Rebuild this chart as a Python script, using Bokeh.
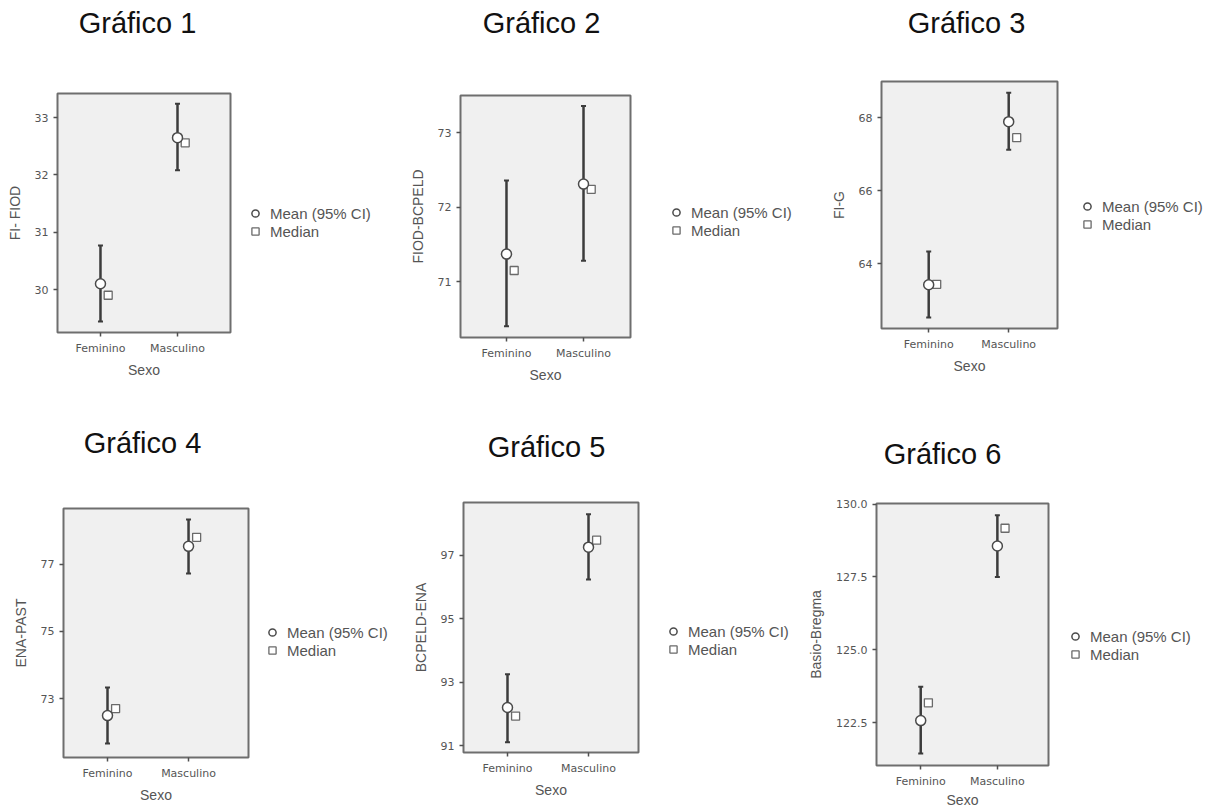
from bokeh.plotting import figure
from bokeh.models import (Range1d, FixedTicker, Legend, LegendItem, Label,
                          ColumnDataSource, PrintfTickFormatter)
from bokeh.layouts import row, column
from bokeh.transform import dodge
from bokeh.embed import file_html
from bokeh.resources import INLINE

# ---------------- data ----------------
categories = ["Feminino", "Masculino"]
x_label = "Sexo"
legend_labels = ["Mean (95% CI)", "Median"]

titles = ["Gráfico 1", "Gráfico 2", "Gráfico 3", "Gráfico 4", "Gráfico 5", "Gráfico 6"]
y_labels = ["FI- FIOD", "FIOD-BCPELD", "FI-G", "ENA-PAST", "BCPELD-ENA", "Basio-Bregma"]

mean_1 = [30.10, 32.65]
lo_1 = [29.44, 32.08]
hi_1 = [30.77, 33.24]
median_1 = [29.90, 32.56]
y_ticks_1 = [30, 31, 32, 33]

mean_2 = [71.37, 72.31]
lo_2 = [70.40, 71.28]
hi_2 = [72.36, 73.36]
median_2 = [71.15, 72.24]
y_ticks_2 = [71, 72, 73]

mean_3 = [63.42, 67.89]
lo_3 = [62.52, 67.12]
hi_3 = [64.33, 68.68]
median_3 = [63.43, 67.45]
y_ticks_3 = [64, 66, 68]

mean_4 = [72.49, 77.54]
lo_4 = [71.66, 76.73]
hi_4 = [73.33, 78.34]
median_4 = [72.70, 77.81]
y_ticks_4 = [73, 75, 77]

mean_5 = [92.20, 97.26]
lo_5 = [91.10, 96.24]
hi_5 = [93.25, 98.30]
median_5 = [91.93, 97.48]
y_ticks_5 = [91, 93, 95, 97]

mean_6 = [122.57, 128.56]
lo_6 = [121.44, 127.50]
hi_6 = [123.73, 129.62]
median_6 = [123.18, 129.17]
y_ticks_6 = [122.5, 125.0, 127.5, 130.0]

series = [
    (mean_1, lo_1, hi_1, median_1, y_ticks_1),
    (mean_2, lo_2, hi_2, median_2, y_ticks_2),
    (mean_3, lo_3, hi_3, median_3, y_ticks_3),
    (mean_4, lo_4, hi_4, median_4, y_ticks_4),
    (mean_5, lo_5, hi_5, median_5, y_ticks_5),
    (mean_6, lo_6, hi_6, median_6, y_ticks_6),
]

# ---------------- layout / style config ----------------
# th: title strip height; l/fw/b/fh: main plot left border, frame width,
# bottom border, frame height; lw: legend strip width; tx/ty: title position;
# lp: legend position (inside the legend strip's frame)
panels = [
    dict(th=89, l=57, fw=173, b=84, fh=239, lw=159, tx=80, ty=67, lp=(13, 92),
         xr=(0.442, 2.688), yr=(29.25, 33.42), fmt=None, xls=4),
    dict(th=91, l=68, fw=170, b=79, fh=242, lw=192, tx=81, ty=69, lp=(34, 98),
         xr=(0.403, 2.61), yr=(70.25, 73.50), fmt=None, xls=4),
    dict(th=77, l=56, fw=176, b=88, fh=247, lw=158, tx=85, ty=55, lp=(18, 95),
         xr=(0.41, 2.61), yr=(62.22, 68.99), fmt=None, xls=4),
    dict(th=88, l=63, fw=185, b=53, fh=249, lw=149, tx=79, ty=62, lp=(12, 98),
         xr=(0.457, 2.74), yr=(71.24, 78.67), fmt=None, xls=4),
    dict(th=82, l=63, fw=175, b=58, fh=250, lw=164, tx=83, ty=52, lp=(23, 94),
         xr=(0.457, 2.617), yr=(90.78, 98.67), fmt=None, xls=4),
    dict(th=83, l=68, fw=175, b=45, fh=262, lw=167, tx=69, ty=46, lp=(15, 102),
         xr=(0.423, 2.667), yr=(121.03, 130.02), fmt="%.1f", xls=1),
]

TOP = 4       # small top border of the main plot
RIGHT = 3     # small right border of the main plot
GREY_TXT = "#555555"
BAR = "#3c3c3c"
MEAN_STYLE = dict(marker="circle", fill_color="white", line_color="#4a4a4a", line_width=1.5)
MED_STYLE = dict(marker="square", fill_color="white", line_color="#6a6a6a", line_width=1.3)

x_pos = [i + 1 for i in range(len(categories))]


def blank_figure(width, height, **borders):
    f = figure(width=width, height=height, toolbar_location=None, output_backend="svg",
               x_axis_type=None, y_axis_type=None,
               x_range=Range1d(-2, -1), y_range=Range1d(-2, -1),
               min_border_left=borders.get("l", 0), min_border_right=borders.get("r", 0),
               min_border_top=borders.get("t", 0), min_border_bottom=borders.get("b", 0))
    f.outline_line_color = None
    f.background_fill_color = "white"
    f.border_fill_color = "white"
    f.grid.visible = False
    return f


def make_panel(cfg, data, title, ylabel):
    mean, lo, hi, med, yticks = data
    mw = cfg["l"] + cfg["fw"] + RIGHT
    mh = TOP + cfg["fh"] + cfg["b"]

    # ---- main plot ----
    p = figure(width=mw, height=mh,
               x_range=Range1d(*cfg["xr"]), y_range=Range1d(*cfg["yr"]),
               toolbar_location=None, output_backend="svg",
               min_border_left=cfg["l"], min_border_right=RIGHT,
               min_border_top=TOP, min_border_bottom=cfg["b"])
    p.background_fill_color = "#f0f0f0"
    p.border_fill_color = "white"
    p.outline_line_color = "#6e6e6e"
    p.outline_line_width = 2
    p.grid.visible = False

    src = ColumnDataSource(dict(x=x_pos, mean=mean, lo=lo, hi=hi, med=med))
    p.segment(x0="x", y0="lo", x1="x", y1="hi", source=src,
              line_color=BAR, line_width=2.5)
    p.scatter(x="x", y="hi", marker="dash", size=5, source=src,
              line_color=BAR, line_width=2)
    p.scatter(x="x", y="lo", marker="dash", size=5, source=src,
              line_color=BAR, line_width=2)
    p.scatter(x=dodge("x", 0.1, range=p.x_range), y="med", size=8, source=src, **MED_STYLE)
    p.scatter(x="x", y="mean", size=10, source=src, **MEAN_STYLE)

    p.xaxis.ticker = FixedTicker(ticks=x_pos)
    p.xaxis.major_label_overrides = {x: c for x, c in zip(x_pos, categories)}
    p.yaxis.ticker = FixedTicker(ticks=yticks)
    if cfg["fmt"]:
        p.yaxis.formatter = PrintfTickFormatter(format=cfg["fmt"])
    for ax in (p.xaxis[0], p.yaxis[0]):
        ax.axis_line_color = None
        ax.major_tick_in = 0
        ax.major_tick_out = 4
        ax.major_tick_line_color = "#505050"
        ax.major_tick_line_width = 1.5
        ax.minor_tick_line_color = None
        ax.major_label_text_font = "DejaVu Sans"
        ax.major_label_text_font_size = "11px"
        ax.major_label_text_color = GREY_TXT
        ax.major_label_standoff = 5
        ax.axis_label_text_font = "Liberation Sans"
        ax.axis_label_text_font_size = "14px"
        ax.axis_label_text_font_style = "normal"
        ax.axis_label_text_color = GREY_TXT
    p.yaxis.axis_label = ylabel
    p.yaxis.axis_label_standoff = 9
    p.xaxis.axis_label = x_label
    p.xaxis.axis_label_standoff = cfg["xls"]

    # ---- legend strip to the right (its glyphs fall outside its own ranges;
    #      only the legend entries are visible) ----
    lg = blank_figure(cfg["lw"], mh, t=TOP, b=cfg["b"])
    r_mean = lg.scatter(x="x", y="mean", size=10, source=src, **MEAN_STYLE)
    r_med = lg.scatter(x="x", y="med", size=8, source=src, **MED_STYLE)
    legend = Legend(items=[LegendItem(label=legend_labels[0], renderers=[r_mean]),
                           LegendItem(label=legend_labels[1], renderers=[r_med])],
                    location=cfg["lp"], padding=0, spacing=0, margin=0,
                    label_height=18, glyph_height=18, glyph_width=18, label_standoff=6,
                    border_line_color=None, background_fill_alpha=0,
                    label_text_font="Liberation Sans", label_text_font_size="15px",
                    label_text_color=GREY_TXT)
    lg.add_layout(legend, "center")

    # ---- title strip above ----
    tf = blank_figure(mw + cfg["lw"], cfg["th"], l=cfg["l"])
    tf.add_layout(Label(x=cfg["tx"], y=cfg["ty"], x_units="screen", y_units="screen",
                        text=title, text_align="center", text_baseline="alphabetic",
                        text_font="Liberation Sans", text_font_size="29px",
                        text_color="#111111"))

    return column(tf, row(p, lg, spacing=0), spacing=0)


panels_out = [make_panel(panels[i], series[i], titles[i], y_labels[i]) for i in range(6)]
layout = column(row(*panels_out[:3], spacing=0), row(*panels_out[3:], spacing=0), spacing=0)

open("out.html", "w").write(file_html(layout, INLINE))
